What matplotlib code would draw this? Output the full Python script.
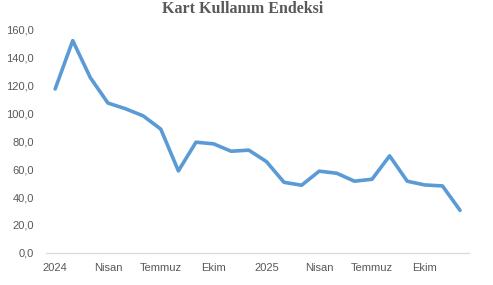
import matplotlib.pyplot as plt
import numpy as np

# Monthly index, Jan 2024 - Dec 2025
months = np.arange(24)
index_values = [117.6, 152.3, 125.7, 107.5, 103.4, 98.3, 88.8, 58.8,
                79.4, 78.2, 72.9, 73.7, 65.5, 50.6, 48.5, 58.6,
                57.1, 51.4, 52.8, 69.6, 51.4, 48.7, 48.0, 30.5]
tick_pos = [0, 3, 6, 9, 12, 15, 18, 21]
tick_labels = ["2024", "Nisan", "Temmuz", "Ekim", "2025", "Nisan", "Temmuz", "Ekim"]
y_ticks = [0, 20, 40, 60, 80, 100, 120, 140, 160]

text_color = "#595959"

fig = plt.figure(figsize=(4.93, 2.85), dpi=100)
ax = fig.add_axes([0.094, 0.113, 0.857, 0.782])

ax.plot(months, index_values, color="#5B9BD5", linewidth=2.6,
        solid_joinstyle="round", solid_capstyle="round")

ax.set_xlim(-0.5, 23.5)
ax.set_ylim(0, 160)
ax.set_xticks(tick_pos)
ax.set_xticklabels(tick_labels)
ax.set_yticks(y_ticks)
ax.set_yticklabels([f"{v:.1f}".replace(".", ",") for v in y_ticks])

for side in ["top", "right", "left"]:
    ax.spines[side].set_visible(False)
ax.spines["bottom"].set_color("#D9D9D9")
ax.spines["bottom"].set_linewidth(0.9)

ax.tick_params(axis="both", length=0, labelsize=8, colors=text_color)
ax.tick_params(axis="y", pad=9)
ax.tick_params(axis="x", pad=7)
for lbl in ax.get_xticklabels() + ax.get_yticklabels():
    lbl.set_fontfamily("Liberation Sans")

fig.text(0.493, 0.968, "Kart Kullanım Endeksi", ha="center", va="center",
         fontsize=11.5, fontweight="bold", family="Liberation Serif", color=text_color)

fig.savefig("out.png", dpi=100)
